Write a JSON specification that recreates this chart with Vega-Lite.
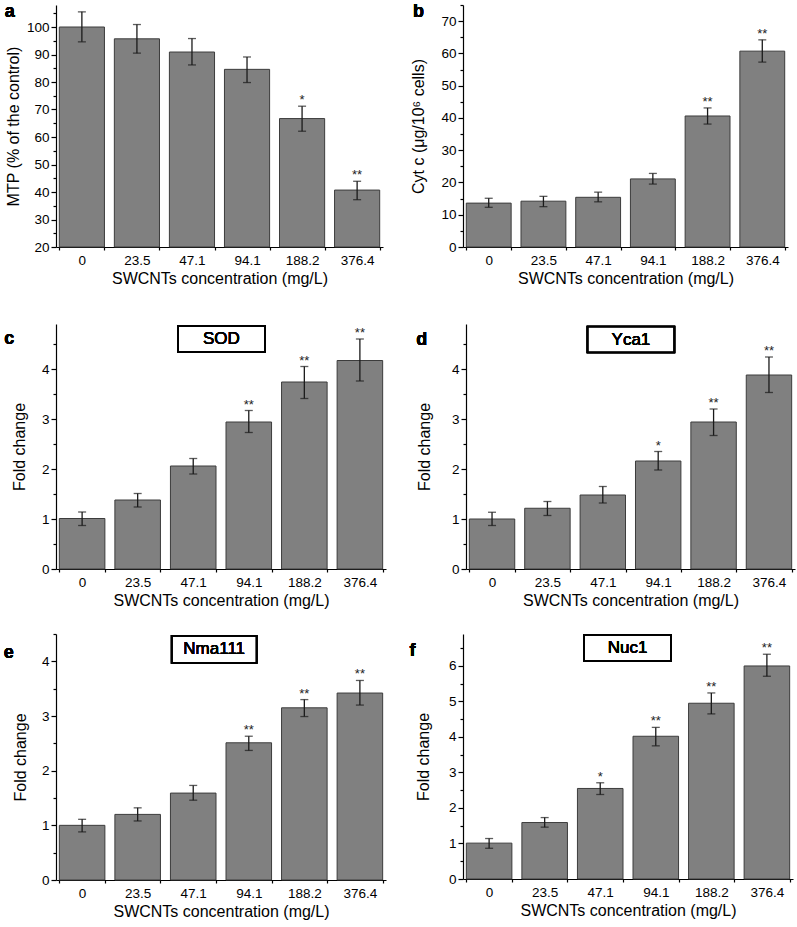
{
  "$schema": "https://vega.github.io/schema/vega-lite/v6.json",
  "padding": {"left": 3, "top": -1, "right": 3, "bottom": 3},
  "background": "white",
  "config": {
    "font": "Liberation Sans",
    "view": {"stroke": null},
    "axis": {
      "domainColor": "#000", "tickColor": "#000", "labelColor": "#000", "titleColor": "#000",
      "labelFont": "Liberation Sans", "titleFont": "Liberation Sans",
      "labelFontSize": 13.5, "titleFontSize": 16, "titleFontWeight": "normal",
      "grid": false, "domainWidth": 1.2, "tickWidth": 1.2, "labelOverlap": false
    },
    "axisX": {"tickBand": "extent", "tickSize": 3, "labelAngle": 0, "labelPadding": 3, "titlePadding": 4},
    "axisY": {"labelPadding": 2},
    "text": {"fontWeight": "normal"}
  },
  "datasets": {
    "a": [
      {"conc": "0", "mean": 100, "lo": 94.6, "hi": 105.5, "sig": ""},
      {"conc": "23.5", "mean": 95.7, "lo": 90.5, "hi": 100.9, "sig": ""},
      {"conc": "47.1", "mean": 90.9, "lo": 86.2, "hi": 95.8, "sig": ""},
      {"conc": "94.1", "mean": 84.6, "lo": 79.8, "hi": 89.1, "sig": ""},
      {"conc": "188.2", "mean": 66.7, "lo": 62.1, "hi": 71.2, "sig": "*"},
      {"conc": "376.4", "mean": 40.7, "lo": 37.2, "hi": 43.9, "sig": "**"}
    ],
    "b": [
      {"conc": "0", "mean": 13.6, "lo": 12.3, "hi": 15.1, "sig": ""},
      {"conc": "23.5", "mean": 14.2, "lo": 12.5, "hi": 15.7, "sig": ""},
      {"conc": "47.1", "mean": 15.4, "lo": 14.0, "hi": 17.0, "sig": ""},
      {"conc": "94.1", "mean": 21.1, "lo": 19.5, "hi": 22.8, "sig": ""},
      {"conc": "188.2", "mean": 40.6, "lo": 38.1, "hi": 43.1, "sig": "**"},
      {"conc": "376.4", "mean": 60.7, "lo": 57.3, "hi": 64.2, "sig": "**"}
    ],
    "c": [
      {"conc": "0", "mean": 1.01, "lo": 0.87, "hi": 1.14, "sig": ""},
      {"conc": "23.5", "mean": 1.38, "lo": 1.24, "hi": 1.51, "sig": ""},
      {"conc": "47.1", "mean": 2.06, "lo": 1.90, "hi": 2.21, "sig": ""},
      {"conc": "94.1", "mean": 2.94, "lo": 2.73, "hi": 3.17, "sig": "**"},
      {"conc": "188.2", "mean": 3.74, "lo": 3.41, "hi": 4.05, "sig": "**"},
      {"conc": "376.4", "mean": 4.17, "lo": 3.76, "hi": 4.60, "sig": "**"}
    ],
    "d": [
      {"conc": "0", "mean": 1.00, "lo": 0.87, "hi": 1.135, "sig": ""},
      {"conc": "23.5", "mean": 1.215, "lo": 1.07, "hi": 1.35, "sig": ""},
      {"conc": "47.1", "mean": 1.48, "lo": 1.32, "hi": 1.65, "sig": ""},
      {"conc": "94.1", "mean": 2.16, "lo": 1.98, "hi": 2.35, "sig": "*"},
      {"conc": "188.2", "mean": 2.94, "lo": 2.67, "hi": 3.20, "sig": "**"},
      {"conc": "376.4", "mean": 3.88, "lo": 3.53, "hi": 4.24, "sig": "**"}
    ],
    "e": [
      {"conc": "0", "mean": 1.00, "lo": 0.88, "hi": 1.11, "sig": ""},
      {"conc": "23.5", "mean": 1.20, "lo": 1.08, "hi": 1.32, "sig": ""},
      {"conc": "47.1", "mean": 1.59, "lo": 1.46, "hi": 1.73, "sig": ""},
      {"conc": "94.1", "mean": 2.51, "lo": 2.37, "hi": 2.63, "sig": "**"},
      {"conc": "188.2", "mean": 3.15, "lo": 2.99, "hi": 3.30, "sig": "**"},
      {"conc": "376.4", "mean": 3.42, "lo": 3.20, "hi": 3.65, "sig": "**"}
    ],
    "f": [
      {"conc": "0", "mean": 1.01, "lo": 0.865, "hi": 1.14, "sig": ""},
      {"conc": "23.5", "mean": 1.59, "lo": 1.46, "hi": 1.73, "sig": ""},
      {"conc": "47.1", "mean": 2.55, "lo": 2.38, "hi": 2.71, "sig": "*"},
      {"conc": "94.1", "mean": 4.02, "lo": 3.75, "hi": 4.27, "sig": "**"},
      {"conc": "188.2", "mean": 4.95, "lo": 4.65, "hi": 5.24, "sig": "**"},
      {"conc": "376.4", "mean": 6.00, "lo": 5.71, "hi": 6.33, "sig": "**"}
    ]
  },
  "spacing": 35,
  "vconcat": [
    {
      "spacing": 27,
      "hconcat": [
        {
          "width": 327, "height": 242,
          "data": {"name": "a"},
          "encoding": {"x": {"field": "conc", "type": "nominal", "sort": ["0","23.5","47.1","94.1","188.2","376.4"], "scale": {"paddingInner": 0.18, "paddingOuter": 0.06}, "axis": {"title": "SWCNTs concentration (mg/L)"}}},
          "layer": [
            {"mark": {"type": "bar", "fill": "#808080", "stroke": "#3c3c3c", "strokeWidth": 1},
             "encoding": {"y": {"field": "mean", "type": "quantitative", "title": "MTP (% of the control)", "scale": {"domain": [20, 108], "nice": false, "zero": false},
               "axis": {"tickCount": 18, "labelOverlap": false, "labelExpr": "datum.value % 10 == 0 ? format(datum.value, 'd') : ''", "labelFontSize": {"condition": {"test": "datum.value % 10 != 0", "value": 0}, "value": 13.5}, "tickSize": {"condition": {"test": "datum.value % 10 != 0", "value": 3}, "value": 5}, "titlePadding": 5}},
               "y2": {"datum": 20}}},
            {"mark": {"type": "errorbar", "color": "#1a1a1a", "thickness": 1.3, "ticks": {"size": 8, "thickness": 1.3}},
             "encoding": {"y": {"field": "lo", "type": "quantitative", "title": "MTP (% of the control)", "scale": {"domain": [20, 108], "nice": false, "zero": false}}, "y2": {"field": "hi"}}},
            {"mark": {"type": "text", "fontSize": 13, "dy": -2, "baseline": "alphabetic", "color": "#222"},
             "encoding": {"y": {"field": "hi", "type": "quantitative", "title": "MTP (% of the control)", "scale": {"domain": [20, 108], "nice": false, "zero": false}}, "text": {"field": "sig"}}},
            {"mark": {"type": "text", "text": "a", "fontSize": 18, "fontWeight": "bold", "align": "left", "baseline": "alphabetic", "color": "#000"},
             "encoding": {"x": {"datum": "0", "bandPosition": -1.21}, "y": {"datum": 103.7}}}
          ]
        },
        {
          "width": 325, "height": 242,
          "data": {"name": "b"},
          "encoding": {"x": {"field": "conc", "type": "nominal", "sort": ["0","23.5","47.1","94.1","188.2","376.4"], "scale": {"paddingInner": 0.18, "paddingOuter": 0.06}, "axis": {"title": "SWCNTs concentration (mg/L)"}}},
          "layer": [
            {"mark": {"type": "bar", "fill": "#808080", "stroke": "#3c3c3c", "strokeWidth": 1},
             "encoding": {"y": {"field": "mean", "type": "quantitative", "title": "Cyt c (μg/10⁶ cells)", "scale": {"domain": [0, 75], "nice": false},
               "axis": {"tickCount": 16, "labelOverlap": false, "labelExpr": "datum.value % 10 == 0 ? format(datum.value, 'd') : ''", "labelFontSize": {"condition": {"test": "datum.value % 10 != 0", "value": 0}, "value": 13.5}, "tickSize": {"condition": {"test": "datum.value % 10 != 0", "value": 3}, "value": 5}, "titlePadding": 14}}}},
            {"mark": {"type": "errorbar", "color": "#1a1a1a", "thickness": 1.3, "ticks": {"size": 8, "thickness": 1.3}},
             "encoding": {"y": {"field": "lo", "type": "quantitative", "title": "Cyt c (μg/10⁶ cells)", "scale": {"domain": [0, 75], "nice": false}}, "y2": {"field": "hi"}}},
            {"mark": {"type": "text", "fontSize": 13, "dy": -2, "baseline": "alphabetic", "color": "#222"},
             "encoding": {"y": {"field": "hi", "type": "quantitative", "title": "Cyt c (μg/10⁶ cells)", "scale": {"domain": [0, 75], "nice": false}}, "text": {"field": "sig"}}},
            {"mark": {"type": "text", "text": "b", "fontSize": 18, "fontWeight": "bold", "align": "left", "baseline": "alphabetic", "color": "#000"},
             "encoding": {"x": {"datum": "0", "bandPosition": -1.19}, "y": {"datum": 71.4}}}
          ]
        }
      ]
    },
    {
      "spacing": 22,
      "vconcat": [
        {
          "spacing": 30,
          "hconcat": [
            {
              "width": 330, "height": 245,
              "data": {"name": "c"},
              "encoding": {"x": {"field": "conc", "type": "nominal", "sort": ["0","23.5","47.1","94.1","188.2","376.4"], "scale": {"paddingInner": 0.18, "paddingOuter": 0.06}, "axis": {"title": "SWCNTs concentration (mg/L)"}}},
              "layer": [
                {"mark": {"type": "bar", "fill": "#808080", "stroke": "#3c3c3c", "strokeWidth": 1},
                 "encoding": {"y": {"field": "mean", "type": "quantitative", "title": "Fold change", "scale": {"domain": [0, 4.9], "nice": false},
                   "axis": {"tickCount": 10, "labelOverlap": false, "labelExpr": "datum.value % 1 == 0 ? format(datum.value, 'd') : ''", "labelFontSize": {"condition": {"test": "datum.value % 1 != 0", "value": 0}, "value": 13.5}, "tickSize": {"condition": {"test": "datum.value % 1 != 0", "value": 3}, "value": 5}, "titlePadding": 14}}}},
                {"mark": {"type": "errorbar", "color": "#1a1a1a", "thickness": 1.3, "ticks": {"size": 8, "thickness": 1.3}},
                 "encoding": {"y": {"field": "lo", "type": "quantitative", "title": "Fold change", "scale": {"domain": [0, 4.9], "nice": false}}, "y2": {"field": "hi"}}},
                {"mark": {"type": "text", "fontSize": 13, "dy": -2, "baseline": "alphabetic", "color": "#222"},
                 "encoding": {"y": {"field": "hi", "type": "quantitative", "title": "Fold change", "scale": {"domain": [0, 4.9], "nice": false}}, "text": {"field": "sig"}}},
                {"mark": {"type": "point", "shape": "M-1,-0.3H1V0.3H-1Z", "size": 7569, "filled": false, "stroke": "#000", "strokeWidth": 1.6, "opacity": 1},
                 "encoding": {"x": {"datum": "94.1", "bandPosition": -0.1}, "y": {"datum": 4.6}}},
                {"mark": {"type": "text", "text": "SOD", "fontSize": 17, "fontWeight": "normal", "color": "#000"},
                 "encoding": {"x": {"datum": "94.1", "bandPosition": -0.1}, "y": {"datum": 4.6}}},
                {"mark": {"type": "text", "text": "c", "fontSize": 18, "fontWeight": "bold", "align": "left", "baseline": "alphabetic", "color": "#000"},
                 "encoding": {"x": {"datum": "0", "bandPosition": -1.21}, "y": {"datum": 4.51}}}
              ]
            },
            {
              "width": 329, "height": 245,
              "data": {"name": "d"},
              "encoding": {"x": {"field": "conc", "type": "nominal", "sort": ["0","23.5","47.1","94.1","188.2","376.4"], "scale": {"paddingInner": 0.18, "paddingOuter": 0.06}, "axis": {"title": "SWCNTs concentration (mg/L)"}}},
              "layer": [
                {"mark": {"type": "bar", "fill": "#808080", "stroke": "#3c3c3c", "strokeWidth": 1},
                 "encoding": {"y": {"field": "mean", "type": "quantitative", "title": "Fold change", "scale": {"domain": [0, 4.9], "nice": false},
                   "axis": {"tickCount": 10, "labelOverlap": false, "labelExpr": "datum.value % 1 == 0 ? format(datum.value, 'd') : ''", "labelFontSize": {"condition": {"test": "datum.value % 1 != 0", "value": 0}, "value": 13.5}, "tickSize": {"condition": {"test": "datum.value % 1 != 0", "value": 3}, "value": 5}, "titlePadding": 19}}}},
                {"mark": {"type": "errorbar", "color": "#1a1a1a", "thickness": 1.3, "ticks": {"size": 8, "thickness": 1.3}},
                 "encoding": {"y": {"field": "lo", "type": "quantitative", "title": "Fold change", "scale": {"domain": [0, 4.9], "nice": false}}, "y2": {"field": "hi"}}},
                {"mark": {"type": "text", "fontSize": 13, "dy": -2, "baseline": "alphabetic", "color": "#222"},
                 "encoding": {"y": {"field": "hi", "type": "quantitative", "title": "Fold change", "scale": {"domain": [0, 4.9], "nice": false}}, "text": {"field": "sig"}}},
                {"mark": {"type": "point", "shape": "M-1,-0.3H1V0.3H-1Z", "size": 7569, "filled": false, "stroke": "#000", "strokeWidth": 1.6, "opacity": 1},
                 "encoding": {"x": {"datum": "94.1", "bandPosition": -0.1}, "y": {"datum": 4.59}}},
                {"mark": {"type": "text", "text": "Yca1", "fontSize": 17, "fontWeight": "normal", "color": "#000"},
                 "encoding": {"x": {"datum": "94.1", "bandPosition": -0.1}, "y": {"datum": 4.59}}},
                {"mark": {"type": "text", "text": "d", "fontSize": 18, "fontWeight": "bold", "align": "left", "baseline": "alphabetic", "color": "#000"},
                 "encoding": {"x": {"datum": "0", "bandPosition": -1.17}, "y": {"datum": 4.48}}}
              ]
            }
          ]
        },
        {
          "spacing": 23,
          "hconcat": [
            {
              "width": 330, "height": 246,
              "data": {"name": "e"},
              "encoding": {"x": {"field": "conc", "type": "nominal", "sort": ["0","23.5","47.1","94.1","188.2","376.4"], "scale": {"paddingInner": 0.18, "paddingOuter": 0.06}, "axis": {"title": "SWCNTs concentration (mg/L)"}}},
              "layer": [
                {"mark": {"type": "bar", "fill": "#808080", "stroke": "#3c3c3c", "strokeWidth": 1},
                 "encoding": {"y": {"field": "mean", "type": "quantitative", "title": "Fold change", "scale": {"domain": [0, 4.5], "nice": false},
                   "axis": {"tickCount": 9, "labelOverlap": false, "labelExpr": "datum.value % 1 == 0 ? format(datum.value, 'd') : ''", "labelFontSize": {"condition": {"test": "datum.value % 1 != 0", "value": 0}, "value": 13.5}, "tickSize": {"condition": {"test": "datum.value % 1 != 0", "value": 3}, "value": 5}, "titlePadding": 13}}}},
                {"mark": {"type": "errorbar", "color": "#1a1a1a", "thickness": 1.3, "ticks": {"size": 8, "thickness": 1.3}},
                 "encoding": {"y": {"field": "lo", "type": "quantitative", "title": "Fold change", "scale": {"domain": [0, 4.5], "nice": false}}, "y2": {"field": "hi"}}},
                {"mark": {"type": "text", "fontSize": 13, "dy": -2, "baseline": "alphabetic", "color": "#222"},
                 "encoding": {"y": {"field": "hi", "type": "quantitative", "title": "Fold change", "scale": {"domain": [0, 4.5], "nice": false}}, "text": {"field": "sig"}}},
                {"mark": {"type": "point", "shape": "M-1,-0.32H1V0.32H-1Z", "size": 7225, "filled": false, "stroke": "#000", "strokeWidth": 1.6, "opacity": 1},
                 "encoding": {"x": {"datum": "94.1", "bandPosition": -0.26}, "y": {"datum": 4.22}}},
                {"mark": {"type": "text", "text": "Nma111", "fontSize": 17, "fontWeight": "normal", "color": "#000"},
                 "encoding": {"x": {"datum": "94.1", "bandPosition": -0.26}, "y": {"datum": 4.22}}},
                {"mark": {"type": "text", "text": "e", "fontSize": 18, "fontWeight": "bold", "align": "left", "baseline": "alphabetic", "color": "#000"},
                 "encoding": {"x": {"datum": "0", "bandPosition": -1.22}, "y": {"datum": 4.055}}}
              ]
            },
            {
              "width": 330, "height": 245,
              "data": {"name": "f"},
              "encoding": {"x": {"field": "conc", "type": "nominal", "sort": ["0","23.5","47.1","94.1","188.2","376.4"], "scale": {"paddingInner": 0.18, "paddingOuter": 0.06}, "axis": {"title": "SWCNTs concentration (mg/L)"}}},
              "layer": [
                {"mark": {"type": "bar", "fill": "#808080", "stroke": "#3c3c3c", "strokeWidth": 1},
                 "encoding": {"y": {"field": "mean", "type": "quantitative", "title": "Fold change", "scale": {"domain": [0, 6.9], "nice": false},
                   "axis": {"tickCount": 14, "labelOverlap": false, "labelExpr": "datum.value % 1 == 0 ? format(datum.value, 'd') : ''", "labelFontSize": {"condition": {"test": "datum.value % 1 != 0", "value": 0}, "value": 13.5}, "tickSize": {"condition": {"test": "datum.value % 1 != 0", "value": 3}, "value": 5}, "titlePadding": 17}}}},
                {"mark": {"type": "errorbar", "color": "#1a1a1a", "thickness": 1.3, "ticks": {"size": 8, "thickness": 1.3}},
                 "encoding": {"y": {"field": "lo", "type": "quantitative", "title": "Fold change", "scale": {"domain": [0, 6.9], "nice": false}}, "y2": {"field": "hi"}}},
                {"mark": {"type": "text", "fontSize": 13, "dy": -2, "baseline": "alphabetic", "color": "#222"},
                 "encoding": {"y": {"field": "hi", "type": "quantitative", "title": "Fold change", "scale": {"domain": [0, 6.9], "nice": false}}, "text": {"field": "sig"}}},
                {"mark": {"type": "point", "shape": "M-1,-0.3H1V0.3H-1Z", "size": 7569, "filled": false, "stroke": "#000", "strokeWidth": 1.6, "opacity": 1},
                 "encoding": {"x": {"datum": "94.1", "bandPosition": -0.12}, "y": {"datum": 6.51}}},
                {"mark": {"type": "text", "text": "Nuc1", "fontSize": 17, "fontWeight": "normal", "color": "#000"},
                 "encoding": {"x": {"datum": "94.1", "bandPosition": -0.12}, "y": {"datum": 6.51}}},
                {"mark": {"type": "text", "text": "f", "fontSize": 18, "fontWeight": "bold", "align": "left", "baseline": "alphabetic", "color": "#000"},
                 "encoding": {"x": {"datum": "0", "bandPosition": -1.25}, "y": {"datum": 6.29}}}
              ]
            }
          ]
        }
      ]
    }
  ]
}
